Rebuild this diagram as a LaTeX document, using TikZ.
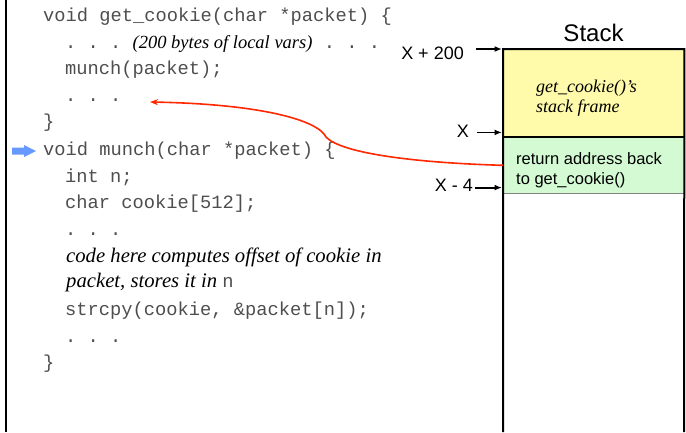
\documentclass[tikz,border=0pt]{standalone}
\usepackage{fontspec}
\setmainfont{Liberation Serif}
\setsansfont{Liberation Sans}
\setmonofont{Liberation Mono}
\usetikzlibrary{arrows.meta}
\definecolor{codegray}{RGB}{78,78,78}
\definecolor{frameyellow}{RGB}{255,251,170}
\definecolor{retgreen}{RGB}{212,250,212}
\definecolor{arrowred}{RGB}{255,40,0}
\definecolor{pointerblue}{RGB}{102,153,255}
\begin{document}
\begin{tikzpicture}[x=1pt,y=-1pt,
  codeline/.style={anchor=base west,inner sep=0pt,text=codegray,
    font=\ttfamily\fontsize{18.75}{22}\selectfont},
  noteline/.style={anchor=base west,inner sep=0pt,text=black,
    font=\itshape\fontsize{20.7}{24}\selectfont},
  addrlabel/.style={anchor=base east,inner sep=0pt,
    font=\sffamily\fontsize{18}{21}\selectfont},
  addrarrow/.style={line width=1.8pt,-{Latex[length=7.5pt,width=6pt]}},
  stackline/.style={line width=2pt},
  retarrow/.style={draw=arrowred,line width=1.6pt,-{Stealth[length=8pt,width=6pt]}}]
\useasboundingbox (0,0) rectangle (686,432);
% left border
\draw[line width=2pt] (6,0) -- (6,432);

% code
\node[codeline] (l1) at (43,21) {void get\_cookie(char *packet) \{};
\node[codeline] (l2) at (65,48) {. . . {\rmfamily\itshape\color{black}\fontsize{18.5}{22}\selectfont (200 bytes of local vars)} . . .};
\node[codeline] (l3) at (65,74) {munch(packet);};
\node[codeline] (dots1) at (65,101) {. . .};
\node[codeline] (l5) at (43,127) {\}};
\node[codeline] (l6) at (43,155) {void munch(char *packet) \{};
\node[codeline] (l7) at (65,182) {int n;};
\node[codeline] (l8) at (65,208) {char cookie[512];};
\node[codeline] (l9) at (65,235) {. . .};
\node[noteline] (l10) at (66,262) {code here computes offset of cookie in};
\node[noteline] (l11) at (66,287) {packet, stores it in {\upshape\ttfamily\color{codegray}\fontsize{18.75}{22}\selectfont n}};
\node[codeline] (l12) at (65,315) {strcpy(cookie, \&packet[n]);};
\node[codeline] (l13) at (65,342) {. . .};
\node[codeline] (l14) at (43,368) {\}};

% current-function pointer
\fill[pointerblue] (12,147.5) -- (24,147.5) -- (24,145) -- (36,151) -- (24,157) -- (24,154.5) -- (12,154.5) -- cycle;

% stack
\node[font=\sffamily\fontsize{24}{28}\selectfont,anchor=base,inner sep=0pt] (stacktitle) at (593.5,41) {Stack};
\node[fill=frameyellow,draw=none,inner sep=0pt,minimum width=181pt,minimum height=88pt,anchor=north west] (frame) at (503,49) {};
\node[fill=retgreen,draw=gray,line width=0.6pt,inner sep=0pt,minimum width=181pt,minimum height=56pt,anchor=north west] (retaddr) at (503,137) {};
\draw[stackline] (503,432) -- (frame.north west) -- (frame.north east) -- (684,432);
\draw[stackline] (frame.south west) -- (frame.south east);

\node[anchor=base west,inner sep=0pt,font=\itshape\fontsize{18}{21}\selectfont] (fr1) at (536,92) {get\_cookie()’s};
\node[anchor=base west,inner sep=0pt,font=\itshape\fontsize{18}{21}\selectfont] (fr2) at (536,112) {stack frame};
\node[anchor=base west,inner sep=0pt,font=\sffamily\fontsize{16.5}{19}\selectfont] (ra1) at (516,164) {return address back};
\node[anchor=base west,inner sep=0pt,font=\sffamily\fontsize{16.5}{19}\selectfont] (ra2) at (516,184) {to get\_cookie()};

% address labels
\node[addrlabel] (lab200) at (464,59) {X + 200};
\node[addrlabel] (labx) at (469,137) {X};
\node[addrlabel] (labx4) at (473,191) {X - 4};
\coordinate (e200) at ([xshift=-1pt]frame.north west);
\coordinate (ex) at ([xshift=-1pt,yshift=5pt]frame.south west);
\coordinate (ex4) at ([xshift=-1pt,yshift=6pt]retaddr.south west);
\coordinate (s200) at ([xshift=-26pt]e200);
\coordinate (sx) at ([xshift=-25pt]ex);
\coordinate (sx4) at ([xshift=-27pt]ex4);
\draw[addrarrow] (s200) -- (e200);
\draw[addrarrow] (sx) -- (ex);
\draw[addrarrow] (sx4) -- (ex4);

% return arrow
\coordinate (tip) at (150,102);
\draw[retarrow] (retaddr.west) .. controls (420,163) and (342,154) .. (326,137)
  .. controls (318,120) and (260,104) .. (tip);
\end{tikzpicture}
\end{document}
